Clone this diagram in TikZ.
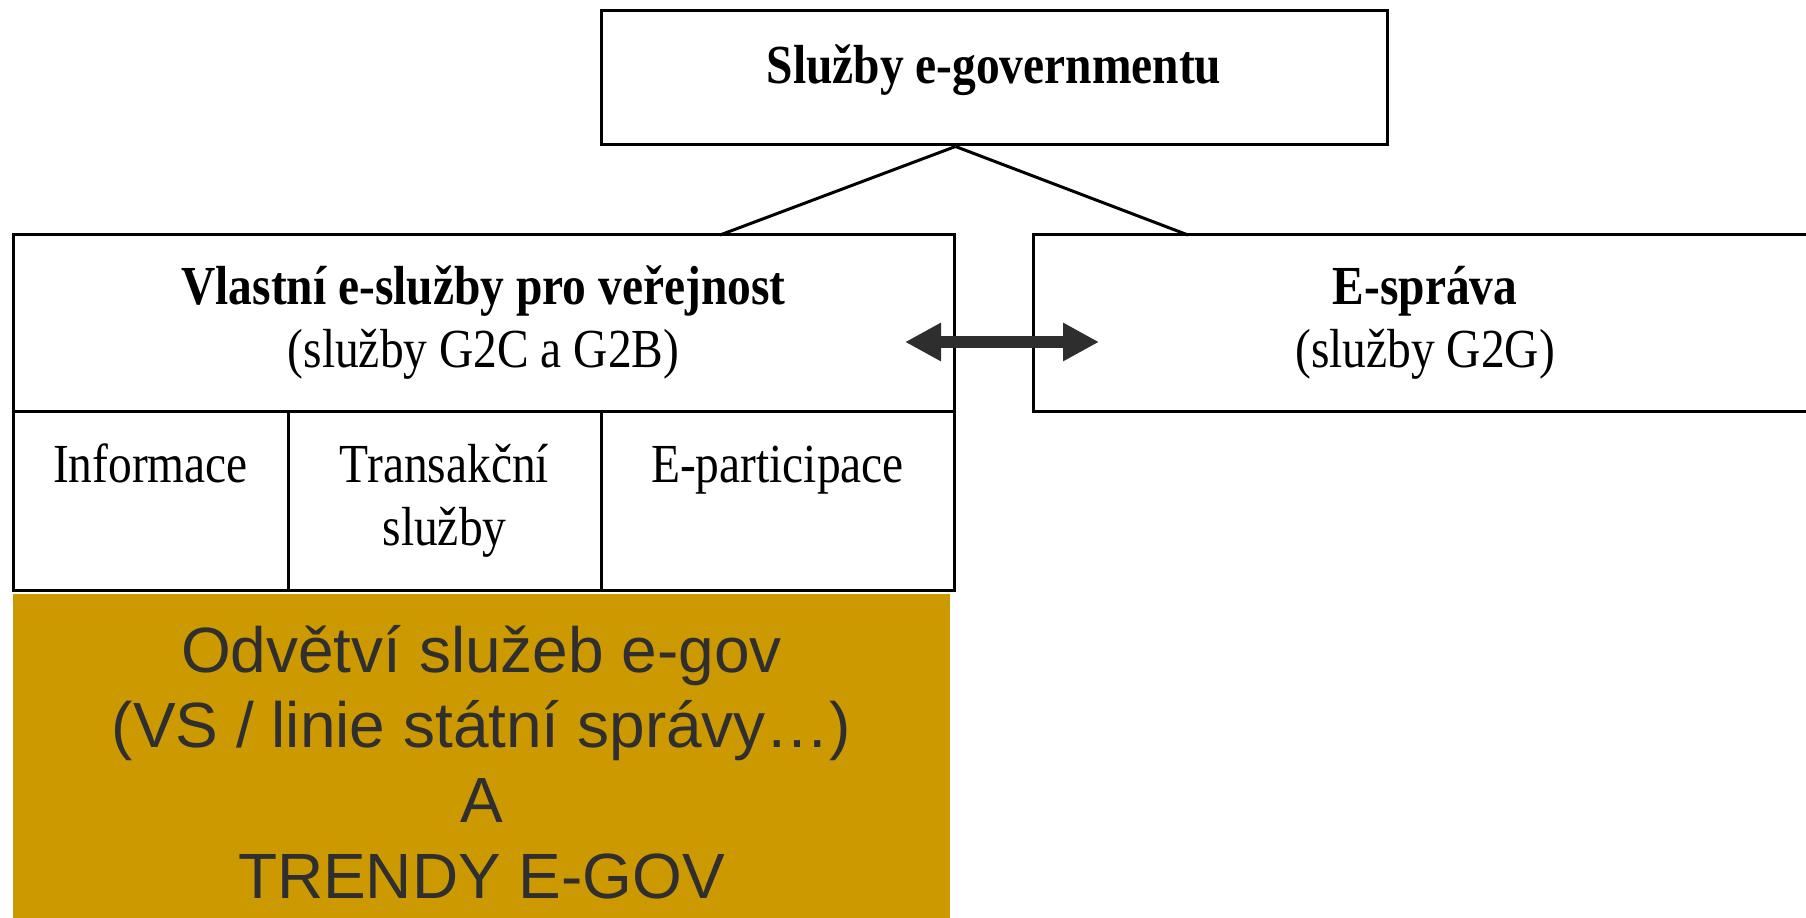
\documentclass[tikz,border=0pt]{standalone}
\usepackage{fontspec}
\setmainfont{Liberation Serif}
\newfontfamily\arialfont{Liberation Sans}
\usetikzlibrary{arrows.meta}
\definecolor{gold}{HTML}{CC9900}
\definecolor{arrowgray}{HTML}{2E2E2E}
\definecolor{goldtext}{HTML}{2F2F2F}
\newcommand{\tallt}[1]{\scalebox{1}[1.16]{#1}}
\tikzset{
  boxline/.style={draw=black, line width=0.3mm},
  frame/.style={boxline, rectangle, inner sep=0pt, align=center, fill=white},
  txt/.style={font=\fontsize{13.5}{18}\selectfont, align=center, inner sep=0pt},
  goldbox/.style={fill=gold, draw=none, rectangle, inner sep=0pt},
  goldtxt/.style={font=\arialfont\fontsize{18.2}{21.4}\selectfont, text=goldtext, align=center, inner sep=0pt},
  link/.style={line width=0.3mm, draw=black},
  dblarrow/.style={line width=1.25mm, draw=arrowgray, {Triangle[length=3.6mm,width=3.6mm]}-{Triangle[length=3.6mm,width=3.6mm]}}
}
\begin{document}
\begin{tikzpicture}[x=0.1mm, y=-0.1mm]
\useasboundingbox (0,0) rectangle (1806,918);
% gold box
\node[goldbox, minimum width=93.7mm, minimum height=33.0mm] (gold) at (481.5,759) {};
\node[goldtxt] (goldt) at (481.5,762) {Odvětví služeb e-gov\\(VS / linie státní správy…)\\A\\TRENDY E-GOV};
% top box
\node[frame, minimum width=78.6mm, minimum height=13.4mm] (top) at (994,78) {};
\node[txt, anchor=base, font=\fontsize{13.5}{18}\selectfont\bfseries] (toptext) at (994,84) {\tallt{Služby e-governmentu}};
% left box
\node[frame, minimum width=94.1mm, minimum height=17.7mm] (vl) at (483.5,323.5) {};
\node[txt, anchor=base] (vltext) at (483.5,368) {\tallt{\textbf{Vlastní e-služby pro veřejnost}}\\\tallt{(služby G2C a G2B)}};
% sub cells
\node[frame, minimum width=27.5mm, minimum height=17.9mm] (c1) at (150.5,501.5) {};
\node[frame, minimum width=31.3mm, minimum height=17.9mm] (c2) at (444.5,501.5) {};
\node[frame, minimum width=35.3mm, minimum height=17.9mm] (c3) at (777.5,501.5) {};
\node[txt, anchor=base] (t1) at (c1.north |- 0,483) {\tallt{Informace}};
\node[txt, anchor=base] (t2) at (c2.north |- 0,546) {\tallt{Transakční}\\\tallt{služby}};
\node[txt, anchor=base] (t3) at (c3.north |- 0,483) {\tallt{E-participace}};
% right box
\node[frame, minimum width=78.4mm, minimum height=17.7mm] (es) at (1425,323.5) {};
\node[txt, anchor=base] (estext) at (1425,368) {\tallt{\textbf{E-správa}}\\\tallt{(služby G2G)}};
% connectors
\coordinate (apex) at (top.south -| vl.east);
\coordinate (lend) at (720,235);
\coordinate (rend) at (1188,235);
\draw[link] (apex) -- (lend);
\draw[link] (apex) -- (rend);
\coordinate (aL) at (905,342);
\coordinate (aR) at (1099,342);
\draw[dblarrow] (aL) -- (aR);
\end{tikzpicture}
\end{document}
